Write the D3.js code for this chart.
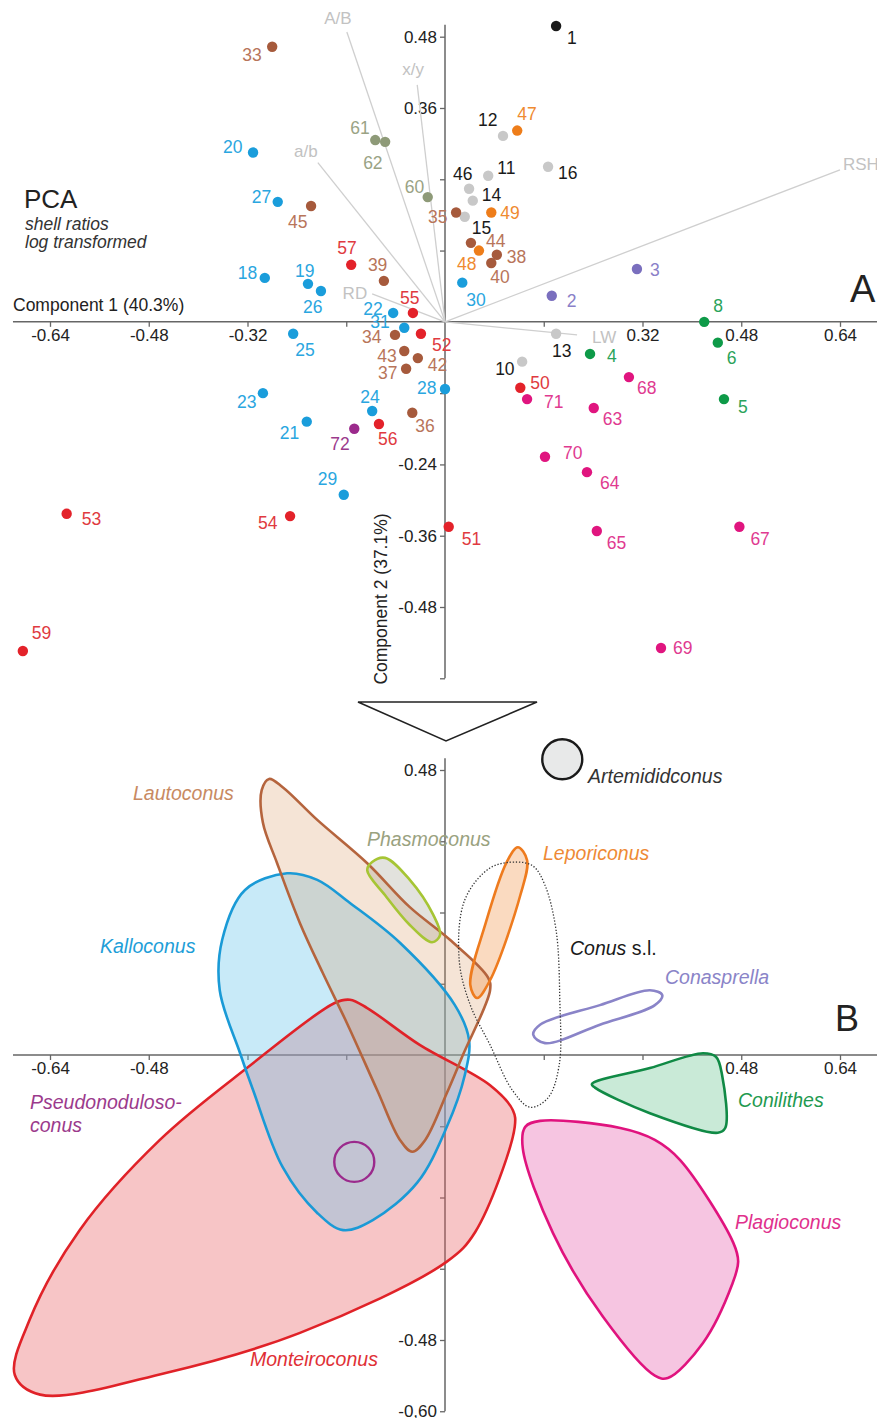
<!DOCTYPE html>
<html lang="en">
<head>
<meta charset="utf-8" />
<title>PCA shell ratios</title>
<script src="https://d3js.org/d3.v7.min.js"></script>
<style>
  body { margin: 0; background: #fff; }
  svg { display: block; font-family: "Liberation Sans", Arial, sans-serif; }
</style>
</head>
<body>
<script>
// group names (genera)
var groups = ["Artemididconus", "Conasprella", "Conilithes", "Conus", "Kalloconus", "Lautoconus",
              "Leporiconus", "Monteiroconus", "Phasmoconus", "Plagioconus", "Pseudonodulosoconus"];

// specimen id, group, component 1, component 2
var points = [
  [1, "Artemididconus", 0.180, 0.498],
  [2, "Conasprella", 0.173, 0.044], [3, "Conasprella", 0.311, 0.089],
  [4, "Conilithes", 0.235, -0.054], [5, "Conilithes", 0.452, -0.130],
  [6, "Conilithes", 0.442, -0.035], [8, "Conilithes", 0.420, 0.000],
  [10, "Conus", 0.125, -0.067], [11, "Conus", 0.070, 0.246], [12, "Conus", 0.094, 0.313],
  [13, "Conus", 0.180, -0.020], [14, "Conus", 0.045, 0.204], [15, "Conus", 0.032, 0.177],
  [16, "Conus", 0.167, 0.261], [46, "Conus", 0.039, 0.224],
  [18, "Kalloconus", -0.292, 0.074], [19, "Kalloconus", -0.222, 0.064], [20, "Kalloconus", -0.311, 0.285],
  [21, "Kalloconus", -0.224, -0.168], [22, "Kalloconus", -0.084, 0.015], [23, "Kalloconus", -0.295, -0.120],
  [24, "Kalloconus", -0.118, -0.150], [25, "Kalloconus", -0.246, -0.020], [26, "Kalloconus", -0.201, 0.052],
  [27, "Kalloconus", -0.271, 0.202], [28, "Kalloconus", 0.000, -0.113], [29, "Kalloconus", -0.164, -0.291],
  [30, "Kalloconus", 0.028, 0.066], [31, "Kalloconus", -0.066, -0.010],
  [33, "Lautoconus", -0.280, 0.463], [34, "Lautoconus", -0.081, -0.022], [35, "Lautoconus", 0.018, 0.184],
  [36, "Lautoconus", -0.053, -0.153], [37, "Lautoconus", -0.063, -0.079], [38, "Lautoconus", 0.084, 0.113],
  [39, "Lautoconus", -0.099, 0.069], [40, "Lautoconus", 0.075, 0.099], [42, "Lautoconus", -0.044, -0.061],
  [43, "Lautoconus", -0.066, -0.049], [44, "Lautoconus", 0.042, 0.133], [45, "Lautoconus", -0.217, 0.195],
  [47, "Leporiconus", 0.117, 0.322], [48, "Leporiconus", 0.055, 0.120], [49, "Leporiconus", 0.075, 0.184],
  [50, "Monteiroconus", 0.122, -0.111], [51, "Monteiroconus", 0.006, -0.345], [52, "Monteiroconus", -0.039, -0.020],
  [53, "Monteiroconus", -0.613, -0.323], [54, "Monteiroconus", -0.251, -0.327], [55, "Monteiroconus", -0.052, 0.015],
  [56, "Monteiroconus", -0.107, -0.172], [57, "Monteiroconus", -0.152, 0.096], [59, "Monteiroconus", -0.684, -0.554],
  [60, "Phasmoconus", -0.028, 0.210], [61, "Phasmoconus", -0.113, 0.306], [62, "Phasmoconus", -0.097, 0.303],
  [63, "Plagioconus", 0.241, -0.145], [64, "Plagioconus", 0.230, -0.253], [65, "Plagioconus", 0.246, -0.352],
  [67, "Plagioconus", 0.477, -0.345], [68, "Plagioconus", 0.298, -0.093], [69, "Plagioconus", 0.350, -0.549],
  [70, "Plagioconus", 0.162, -0.227], [71, "Plagioconus", 0.133, -0.130],
  [72, "Pseudonodulosoconus", -0.147, -0.180]
];

// label offsets in px from the dot: id, dx (left edge), dy (middle)
var labelOffsets = [
  [1,11,12],[2,15,5],[3,13,1],[4,17,2],[5,14,8],[6,9,15],[8,9,-16],[10,-27,7],[11,9,-8],[12,-25,-16],
  [13,-4,17],[14,9,-6],[15,7,11],[16,10,6],[18,-27,-5],[19,-13,-13],[20,-30,-6],[21,-27,11],[22,-30,-4],
  [23,-26,9],[24,-12,-14],[25,2,16],[26,-18,16],[27,-26,-5],[28,-28,-1],[29,-26,-16],[30,4,17],[31,-34,-6],
  [33,-30,8],[34,-33,2],[35,-28,4],[36,3,13],[37,-28,4],[38,10,2],[39,-16,-16],[40,-1,14],[42,10,7],
  [43,-27,5],[44,15,-2],[45,-23,16],[46,-16,-15],[47,0,-17],[48,-22,13],[49,9,0],[50,10,-5],[51,13,12],
  [52,11,11],[53,15,5],[54,-32,7],[55,-13,-15],[56,-1,15],[57,-14,-17],[59,9,-18],[60,-23,-10],[61,-25,-12],
  [62,-22,21],[63,9,11],[64,13,11],[65,10,12],[67,11,12],[68,8,11],[69,12,0],[70,18,-4],[71,17,3],[72,-24,15]
];

// loading vectors (biplot)
var vectorNames = ["A/B", "x/y", "a/b", "RD", "RSH", "LW"];
var vectorTips = [[-0.159, 0.488], [-0.045, 0.399], [-0.206, 0.268], [-0.118, 0.047], [0.640, 0.256], [0.214, -0.022]];

// tick values and labels
var xTicks = [-0.64, -0.48, -0.32, -0.16, 0.16, 0.32, 0.48, 0.64];
var yTicks = [0.48, 0.36, 0.24, 0.12, -0.12, -0.24, -0.36, -0.48, -0.60];
var xLabelsA = ["-0.64", "-0.48", "-0.32", "", "", "0.32", "0.48", "0.64"];
var yLabelsA = ["0.48", "0.36", "", "", "", "-0.24", "-0.36", "-0.48", ""];
var xLabelsB = ["-0.64", "-0.48", "", "", "", "", "0.48", "0.64"];
var yLabelsB = ["0.48", "", "", "", "", "", "", "-0.48", "-0,60"];

// panel B outlines (component 1, component 2)
var lautoconusHull = [[-0.285,0.465],[-0.297,0.446],[-0.295,0.391],[-0.272,0.323],[-0.235,0.222],[-0.198,0.138],
  [-0.159,0.054],[-0.110,-0.059],[-0.073,-0.143],[-0.053,-0.163],[-0.032,-0.143],[0.003,-0.064],[0.029,0.0],
  [0.073,0.109],[0.070,0.130],[0.008,0.194],[-0.057,0.249],[-0.126,0.323],[-0.207,0.396],[-0.263,0.451]];
var kalloconusHull = [[-0.256,0.306],[-0.324,0.278],[-0.361,0.194],[-0.365,0.109],[-0.332,0.003],[-0.311,-0.059],
  [-0.263,-0.189],[-0.207,-0.266],[-0.165,-0.295],[-0.117,-0.278],[-0.045,-0.215],[0.003,-0.121],[0.032,-0.034],
  [0.039,0.025],[0.016,0.084],[-0.073,0.189],[-0.154,0.256],[-0.207,0.295]];
var monteiroconusHull = [[-0.154,0.093],[-0.178,0.088],[-0.321,-0.022],[-0.462,-0.143],[-0.592,-0.295],[-0.673,-0.446],
  [-0.697,-0.539],[-0.656,-0.572],[-0.451,-0.535],[-0.235,-0.468],[0.003,-0.348],[0.049,-0.298],[0.113,-0.121],
  [0.110,-0.093],[0.073,-0.051],[-0.041,0.017],[-0.126,0.079]];
var phasmoconusHull = [[-0.118,0.325],[-0.097,0.332],[-0.057,0.295],[-0.019,0.236],[-0.008,0.202],[-0.021,0.190],
  [-0.057,0.219],[-0.097,0.269],[-0.126,0.311]];
var leporiconusHull = [[0.118,0.350],[0.133,0.328],[0.122,0.269],[0.073,0.126],[0.052,0.096],[0.041,0.118],
  [0.065,0.219],[0.100,0.325]];
var conusHull = [[0.117,0.325],[0.073,0.315],[0.032,0.261],[0.023,0.160],[0.041,0.084],[0.073,0.017],[0.109,-0.059],
  [0.138,-0.088],[0.167,-0.072],[0.185,-0.017],[0.186,0.093],[0.180,0.210],[0.162,0.286],[0.143,0.318]];
var conasprellaHull = [[0.143,0.034],[0.154,0.051],[0.251,0.084],[0.332,0.109],[0.352,0.101],[0.340,0.084],
  [0.251,0.051],[0.162,0.020]];
var conilithesHull = [[0.238,-0.049],[0.332,-0.022],[0.418,0.003],[0.439,-0.003],[0.449,-0.034],[0.454,-0.123],
  [0.442,-0.131],[0.332,-0.098],[0.243,-0.055]];
var plagioconusHull = [[0.130,-0.121],[0.154,-0.111],[0.284,-0.123],[0.340,-0.143],[0.381,-0.177],[0.467,-0.316],
  [0.475,-0.348],[0.465,-0.387],[0.418,-0.485],[0.361,-0.544],[0.340,-0.540],[0.256,-0.441],[0.175,-0.300],[0.126,-0.157]];
var artemididconusCentre = [0.190, 0.498];
var pseudonodulosoconusCentre = [-0.147, -0.180];

// styles
var dotColor = {Artemididconus:"#1a1a1a", Conasprella:"#7a6fbe", Conilithes:"#0e9a48", Conus:"#c8c8c8",
  Kalloconus:"#1a9ddb", Lautoconus:"#a65a3c", Leporiconus:"#ee7d1a", Monteiroconus:"#e3222a",
  Phasmoconus:"#8e9a78", Plagioconus:"#e0157f", Pseudonodulosoconus:"#9b2a8c"};
var textColor = {Artemididconus:"#1a1a1a", Conasprella:"#8a80c8", Conilithes:"#2aa35a", Conus:"#1a1a1a",
  Kalloconus:"#2aa6e0", Lautoconus:"#b8755a", Leporiconus:"#ef8a30", Monteiroconus:"#e03a40",
  Phasmoconus:"#9aa385", Plagioconus:"#e03a90", Pseudonodulosoconus:"#9b3a8c"};

var W = 877, H = 1418;
var svg = d3.select("body").append("svg").attr("width", W).attr("height", H);

var x = d3.scaleLinear().domain([-0.64, 0.64]).range([50, 840]);
var yA = d3.scaleLinear().domain([0.48, -0.48]).range([36.7, 607]);
var yB = d3.scaleLinear().domain([0.48, -0.48]).range([770, 1340]);

function drawAxes(y, xLabels, yLabels) {
  var gx = svg.append("g").attr("transform", "translate(0," + y(0) + ")")
    .call(d3.axisBottom(x).tickValues(xTicks).tickSize(5).tickPadding(2)
      .tickFormat(function(d, i) { return xLabels[i]; }));
  var gy = svg.append("g").attr("transform", "translate(" + x(0) + ",0)")
    .call(d3.axisLeft(y).tickValues(yTicks).tickSize(5).tickPadding(3)
      .tickFormat(function(d, i) { return yLabels[i]; }));
  [gx, gy].forEach(function(g) {
    g.select(".domain").remove();
    g.selectAll("line").attr("stroke", "#666").attr("stroke-width", 1.3);
    g.selectAll("text").attr("font-size", 17).attr("fill", "#222")
      .attr("font-family", "'Liberation Sans', Arial, sans-serif");
  });
  svg.append("line").attr("x1", x(-0.70)).attr("x2", x(0.70)).attr("y1", y(0)).attr("y2", y(0))
    .attr("stroke", "#666").attr("stroke-width", 1.5);
  svg.append("line").attr("x1", x(0)).attr("x2", x(0)).attr("y1", y(0.50)).attr("y2", y(-0.60))
    .attr("stroke", "#666").attr("stroke-width", 1.5);
}

// ---------- panel A ----------
drawAxes(yA, xLabelsA, yLabelsA);

// loading vectors
svg.selectAll("line.vec").data(vectorTips).enter().append("line").attr("class", "vec")
  .attr("x1", x(0)).attr("y1", yA(0))
  .attr("x2", function(d) { return x(d[0]); }).attr("y2", function(d) { return yA(d[1]); })
  .attr("stroke", "#cfcfcf").attr("stroke-width", 1.3);
var vecLabelPos = [[-9, -8, "middle"], [-4, -10, "middle"], [-12, -6, "middle"], [-5, 5, "end"], [3, 0, "start"], [15, 8, "start"]];
svg.selectAll("text.vec").data(vectorTips).enter().append("text").attr("class", "vec")
  .attr("x", function(d, i) { return x(d[0]) + vecLabelPos[i][0]; })
  .attr("y", function(d, i) { return yA(d[1]) + vecLabelPos[i][1]; })
  .attr("text-anchor", function(d, i) { return vecLabelPos[i][2]; })
  .attr("font-size", 17).attr("fill", "#c2c2c2")
  .text(function(d, i) { return vectorNames[i]; });

// dots
svg.selectAll("circle.pt").data(points).enter().append("circle").attr("class", "pt")
  .attr("cx", function(d) { return x(d[2]); }).attr("cy", function(d) { return yA(d[3]); })
  .attr("r", 5.2).attr("fill", function(d) { return dotColor[d[1]]; });

var offsetById = {};
labelOffsets.forEach(function(o) { offsetById[o[0]] = o; });
svg.selectAll("text.pt").data(points).enter().append("text").attr("class", "pt")
  .attr("x", function(d) { return x(d[2]) + offsetById[d[0]][1]; })
  .attr("y", function(d) { return yA(d[3]) + offsetById[d[0]][2]; })
  .attr("dominant-baseline", "central")
  .attr("font-size", 17.5).attr("fill", function(d) { return textColor[d[1]]; })
  .text(function(d) { return d[0]; });

svg.append("text").attr("x", 24).attr("y", 208).attr("font-size", 26).attr("fill", "#222").text("PCA");
svg.append("text").attr("x", 25).attr("y", 230).attr("font-size", 17.5).attr("font-style", "italic")
  .attr("fill", "#333").text("shell ratios");
svg.append("text").attr("x", 25).attr("y", 248).attr("font-size", 17.5).attr("font-style", "italic")
  .attr("fill", "#333").text("log transformed");
svg.append("text").attr("x", 13).attr("y", 311).attr("font-size", 17.5).attr("fill", "#222")
  .text("Component 1 (40.3%)");
svg.append("text").attr("transform", "translate(387,599) rotate(-90)").attr("text-anchor", "middle")
  .attr("font-size", 17.5).attr("fill", "#222").text("Component 2 (37.1%)");
svg.append("text").attr("x", 850).attr("y", 302).attr("font-size", 38).attr("fill", "#222").text("A");

// zoom triangle
svg.append("path").attr("d", "M358,702 L537,702 L446,741 Z")
  .attr("fill", "none").attr("stroke", "#222").attr("stroke-width", 1.6);

// ---------- panel B ----------
drawAxes(yB, xLabelsB, yLabelsB);

var outline = d3.line().x(function(d) { return x(d[0]); }).y(function(d) { return yB(d[1]); })
  .curve(d3.curveCatmullRomClosed.alpha(0.5));

var hulls = [
  {name: "Monteiroconus", pts: monteiroconusHull, stroke: "#e02228", fill: "#e8585c", op: 0.35},
  {name: "Kalloconus", pts: kalloconusHull, stroke: "#1a9ad6", fill: "#62c4ec", op: 0.35},
  {name: "Lautoconus", pts: lautoconusHull, stroke: "#b5643d", fill: "#d9925a", op: 0.25},
  {name: "Phasmoconus", pts: phasmoconusHull, stroke: "#a6c534", fill: "#a0a090", op: 0.3},
  {name: "Leporiconus", pts: leporiconusHull, stroke: "#ee7b1e", fill: "#f0964a", op: 0.35},
  {name: "Conasprella", pts: conasprellaHull, stroke: "#8a84c8", fill: "none", op: 0},
  {name: "Conilithes", pts: conilithesHull, stroke: "#108a45", fill: "#4cb97a", op: 0.3},
  {name: "Plagioconus", pts: plagioconusHull, stroke: "#e0137e", fill: "#e45aa8", op: 0.35}
];
// fills first, outlines on top so every outline stays visible
svg.selectAll("path.hullfill").data(hulls).enter().append("path").attr("class", "hullfill")
  .attr("d", function(d) { return outline(d.pts); })
  .attr("fill", function(d) { return d.fill; }).attr("fill-opacity", function(d) { return d.op; })
  .attr("stroke", "none");
svg.selectAll("path.hull").data(hulls).enter().append("path").attr("class", "hull")
  .attr("d", function(d) { return outline(d.pts); })
  .attr("fill", "none")
  .attr("stroke", function(d) { return d.stroke; }).attr("stroke-width", 2.6)
  .attr("stroke-linejoin", "round");

svg.append("path").attr("d", outline(conusHull)).attr("fill", "none")
  .attr("stroke", "#333").attr("stroke-width", 1.3).attr("stroke-dasharray", "1.3,1.8");

svg.append("circle").attr("cx", x(artemididconusCentre[0])).attr("cy", yB(artemididconusCentre[1]))
  .attr("r", 20).attr("fill", "#e8e9e9").attr("stroke", "#1a1a1a").attr("stroke-width", 2.4);
svg.append("circle").attr("cx", x(pseudonodulosoconusCentre[0])).attr("cy", yB(pseudonodulosoconusCentre[1]))
  .attr("r", 20).attr("fill", "none").attr("stroke", "#9b2a8c").attr("stroke-width", 2.4);

var groupLabels = [
  ["Artemididconus", 588, 783, "#333"], ["Lautoconus", 133, 800, "#c88a62"],
  ["Phasmoconus", 367, 846, "#9aa27f"], ["Leporiconus", 543, 860, "#ee8a35"],
  ["Kalloconus", 100, 953, "#1e9ed8"], ["Conasprella", 665, 984, "#8a84c8"],
  ["Conilithes", 738, 1107, "#1f9a50"], ["Plagioconus", 735, 1229, "#e0308c"],
  ["Monteiroconus", 250, 1366, "#e03036"], ["Pseudonoduloso-", 30, 1109, "#9b3a8c"], ["conus", 30, 1132, "#9b3a8c"]
];
svg.selectAll("text.grp").data(groupLabels).enter().append("text").attr("class", "grp")
  .attr("x", function(d) { return d[1]; }).attr("y", function(d) { return d[2]; })
  .attr("font-size", 19.5).attr("font-style", "italic").attr("fill", function(d) { return d[3]; })
  .text(function(d) { return d[0]; });

var conusLabel = svg.append("text").attr("x", 570).attr("y", 955).attr("font-size", 19.5).attr("fill", "#1a1a1a");
conusLabel.append("tspan").attr("font-style", "italic").text("Conus");
conusLabel.append("tspan").text(" s.l.");

svg.append("text").attr("x", 835).attr("y", 1031).attr("font-size", 36).attr("fill", "#222").text("B");
</script>
</body>
</html>
